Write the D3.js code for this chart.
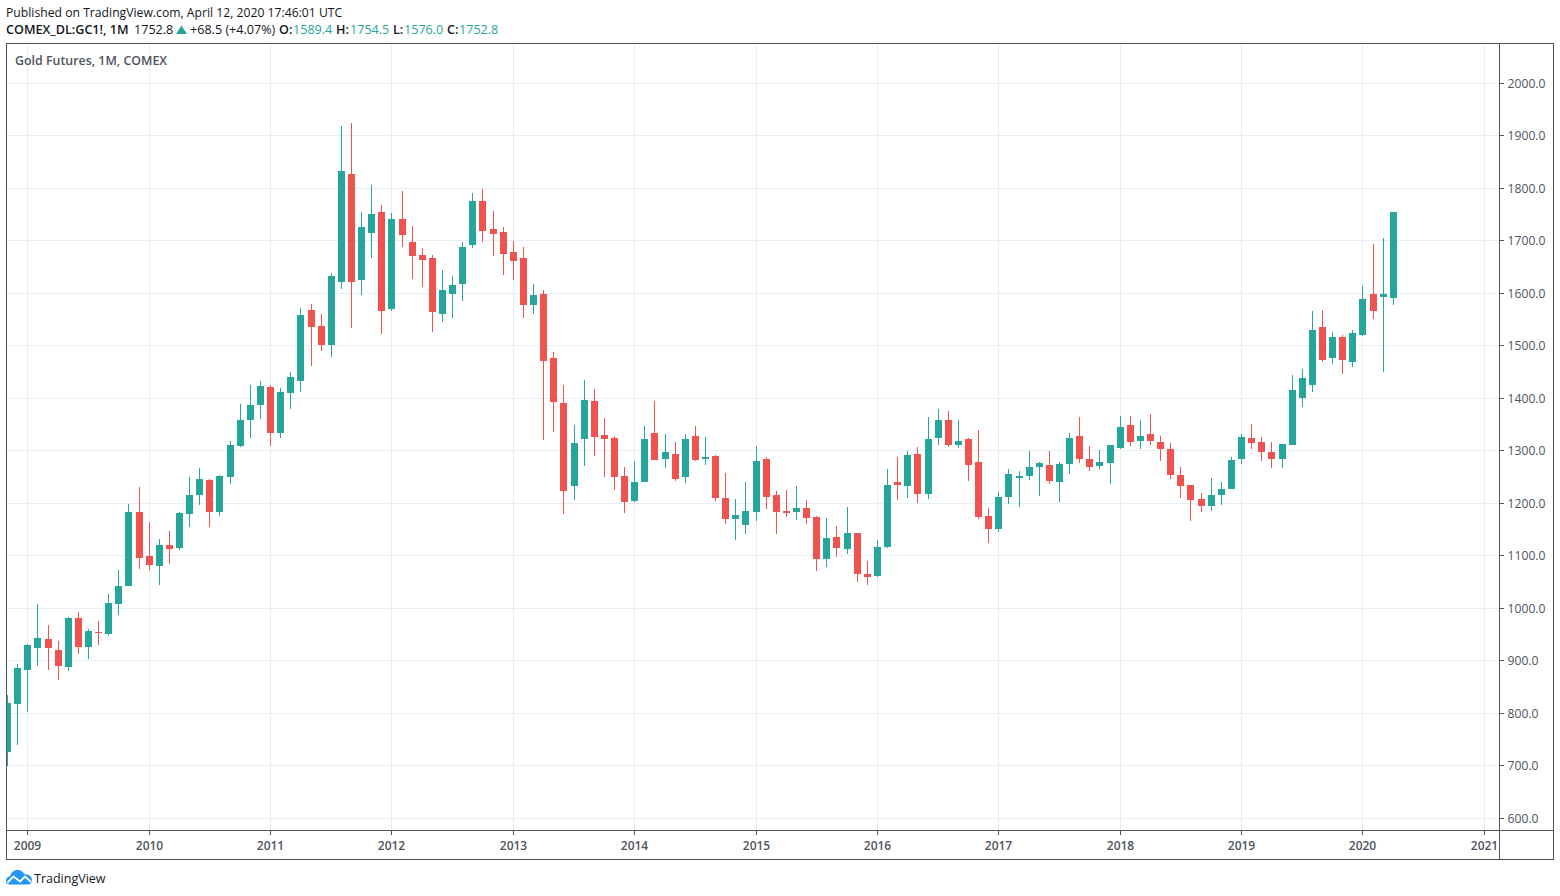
<!DOCTYPE html>
<html>
<head>
<meta charset="utf-8">
<script src="https://cdnjs.cloudflare.com/ajax/libs/d3/7.8.5/d3.min.js"></script>
<style>
  html, body { margin: 0; padding: 0; background: #fff; }
  text { font-family: "Open Sans", sans-serif; }
</style>
</head>
<body>
<svg id="chart" width="1560" height="896"></svg>
<script>
// monthly candles, Nov 2008 to Apr 2020
const opens = [726,817,882,924,941,920,888,981,926,954,
  950,1008,1042,1183,1099,1080,1120,1114,1179,1215,
  1244,1183,1249.5,1308.5,1358,1386.6,1420.9,1333.3,1409.5,1432,
  1567.6,1537,1501,1621,1826.7,1625,1714,1754,1569.5,1741,
  1697,1672.4,1666.7,1560,1598,1617,1691.4,1775,1722,1716,
  1678,1666.7,1577,1598,1476,1390.5,1232.4,1322,1394.3,1329.5,
  1323.8,1251.4,1203.8,1240,1333.3,1283.8,1293.3,1249.5,1327.6,1283.8,
  1289.5,1209.5,1169.5,1158,1182.8,1283.8,1215,1184.7,1182.8,1190.4,
  1173.3,1093.3,1135.2,1112.3,1142.8,1064.7,1060.9,1116.1,1240,1232.3,
  1293.3,1217,1323.8,1358,1310.4,1321.9,1278,1175.2,1150.4,1211.4,
  1247.6,1251.4,1268.5,1272.3,1240,1274.2,1327.6,1283.8,1270.4,1276.1,
  1304.7,1348.5,1318,1331.4,1316.1,1302.8,1253.3,1234.2,1207.6,1194.2,
  1215.2,1226.6,1283.8,1323.8,1316.1,1297,1283.7,1310.4,1400,1424.7,
  1535.2,1476.1,1516.1,1468.5,1520,1598,1592.3,1589.4];
const highs = [834,893,931,1008,968,937,983,992,960,975,
  1027,1072,1198,1229,1164,1131,1147,1183,1249.5,1267,
  1246,1253,1318,1388.5,1424.7,1432.3,1424.7,1419,1449.5,1571.4,
  1579,1560,1638,1918,1924,1754,1806,1767.6,1752.4,1794,
  1727.6,1685.7,1672.4,1643.8,1632.4,1697,1790.5,1798,1756,1725.7,
  1699,1687.6,1617,1605.7,1487.6,1424.8,1348.6,1434.3,1417,1362,
  1327.6,1268.6,1280,1346.7,1394.3,1331.4,1316,1331.4,1346.7,1325.7,
  1291.4,1257,1207.6,1240,1308.6,1287.6,1222.8,1224.7,1232.3,1205.7,
  1175.2,1171.4,1156,1192.3,1142.8,1089.4,1129.4,1264.7,1287.6,1299,
  1306.6,1363.8,1379,1375.2,1358,1323.8,1339,1190.4,1220.9,1264.7,
  1260.9,1299,1278,1299,1278,1333.3,1363.8,1308.5,1300.9,1310.4,
  1365.7,1365.7,1358,1369.5,1327.6,1314.2,1268.5,1234.2,1219,1247.6,
  1240,1287.6,1331.4,1350.4,1325.7,1316.1,1312.3,1443.7,1455.2,1565.7,
  1567.6,1525.6,1519.9,1529.4,1613.3,1693.3,1704.7,1754.5];
const lows = [698,739,801,889,882,863,880,912,903,929,
  947,987,1041,1074,1072,1044,1084,1110,1154,1196,
  1154,1175,1236,1306.6,1323.8,1360,1308.5,1323.8,1379,1411,
  1461,1489,1478,1607.6,1533.3,1596,1666.7,1522,1565.7,1687.6,
  1626.6,1611.4,1525.7,1544.7,1552.4,1584.7,1685.7,1697,1670.5,1634,
  1625,1552.4,1560,1320,1335,1179,1205.7,1270.5,1289.5,1249.5,
  1224.8,1181,1201.9,1240,1281.9,1266.7,1241.9,1238,1280,1272.4,
  1203.8,1160,1129.5,1141,1165.7,1188.6,1141,1173,1167.5,1160,
  1070.4,1078,1097,1102.8,1049.4,1043.7,1059,1114.2,1205.7,1209.5,
  1200,1207.6,1310.4,1306.6,1304.7,1241.9,1169.5,1123.7,1144.7,1198,
  1192.3,1243.8,1213.3,1236.1,1201.8,1255.2,1276.1,1260.9,1264.7,1236.1,
  1302.8,1308.5,1302.8,1310.4,1280,1245.7,1209.5,1165.6,1182.8,1184.7,
  1196.1,1226.6,1274.2,1302.8,1280,1266.6,1266.6,1310,1382.8,1411.4,
  1468.5,1464.7,1445.6,1459,1518,1550.4,1449.4,1576];
const closes = [819,886,929.5,943,924,889.5,981,926,956,952,
  1009.5,1042,1183,1095,1082,1120,1112,1181,1215,1246,
  1183,1251,1310,1358,1386.6,1422.8,1333.3,1411.4,1440,1558,
  1535,1501,1632.4,1832.4,1621,1725.7,1750.5,1565.7,1741,1710.5,
  1670.5,1662.9,1563.8,1605.7,1615,1687.6,1775,1718,1712.4,1674,
  1661,1577,1596,1470.5,1392.4,1222.8,1314.3,1396.2,1325.7,1322,
  1249.5,1201.9,1240,1321.9,1281.9,1297,1245.7,1321.9,1281.9,1287.6,
  1209.5,1169.5,1177,1184.8,1280,1211.4,1182.8,1180.9,1190.4,1171.4,
  1093.3,1133.3,1114.2,1142.8,1064.7,1059,1116.1,1234.2,1234.2,1291.4,
  1217,1321.9,1358,1310.4,1318,1272.3,1173.3,1150.4,1211.4,1255.2,
  1251.4,1268.5,1276.1,1241.9,1274.2,1323.8,1283.8,1268.5,1278,1310.4,
  1344.7,1316.1,1327.6,1318,1302.8,1253.3,1232.3,1205.6,1194.2,1215.2,
  1226.6,1281.9,1325.7,1314.2,1297,1283.7,1312.3,1415.1,1438,1529.4,
  1472.3,1516.1,1472.3,1523.7,1588.5,1565.6,1598,1752.8];

const yearLabels = ["2009","2010","2011","2012","2013","2014","2015","2016","2017","2018","2019","2020","2021"];
const priceTicks = [600,700,800,900,1000,1100,1200,1300,1400,1500,1600,1700,1800,1900,2000];

const UP = "#26a69a", DOWN = "#ef5350", GRID = "#e6eef5", LINE = "#50535e", INK = "#131722";

const paneLeft = 6.5, paneRight = 1499.5, outerRight = 1553.5, paneTop = 43.5, paneBottom = 830.5, outerBottom = 859.5;

// slot index runs past the last candle so the 2021 tick fits
const slots = d3.range(147);
const x = d3.scalePoint().domain(slots).range([7.59, 1484.31]);
const y = d3.scaleLinear().domain([600, 2000]).range([818.2, 83.2]);
const px = i => Math.floor(x(i)) + 0.5;
const py = v => Math.floor(y(v)) + 0.5;
const yearSlot = label => (+label - 2009) * 12 + 2;

const svg = d3.select("#chart");

svg.append("defs").append("clipPath").attr("id", "pane")
  .append("rect").attr("x", paneLeft + 0.5).attr("y", paneTop).attr("width", paneRight - paneLeft - 0.5).attr("height", paneBottom - paneTop);

// grid
const grid = svg.append("g").attr("clip-path", "url(#pane)").attr("shape-rendering", "crispEdges");
grid.selectAll("line.v").data(yearLabels).join("line")
  .attr("class", "v")
  .attr("x1", d => px(yearSlot(d))).attr("x2", d => px(yearSlot(d)))
  .attr("y1", paneTop).attr("y2", paneBottom)
  .attr("stroke", GRID);
grid.selectAll("line.h").data(priceTicks).join("line")
  .attr("class", "h")
  .attr("x1", paneLeft).attr("x2", paneRight)
  .attr("y1", d => py(d)).attr("y2", d => py(d))
  .attr("stroke", GRID);

// candles
const candles = closes.map((c, i) => ({ i, o: opens[i], h: highs[i], l: lows[i], c }));
const marks = svg.append("g").attr("clip-path", "url(#pane)").attr("shape-rendering", "crispEdges");
const colour = d => d.c >= d.o ? UP : DOWN;
const row = v => Math.floor(y(v));

marks.selectAll("rect.wick").data(candles).join("rect")
  .attr("class", "wick")
  .attr("x", d => px(d.i) - 0.5)
  .attr("width", 1)
  .attr("y", d => row(d.h))
  .attr("height", d => Math.max(1, row(d.l) - row(d.h)))
  .attr("fill", colour);

marks.selectAll("rect.body").data(candles).join("rect")
  .attr("class", "body")
  .attr("x", d => px(d.i) - 3.5)
  .attr("width", 7)
  .attr("y", d => row(Math.max(d.o, d.c)))
  .attr("height", d => Math.max(1, row(Math.min(d.o, d.c)) - row(Math.max(d.o, d.c))))
  .attr("fill", colour);

// axes
const yAxis = d3.axisRight(y).tickValues(priceTicks).tickFormat(d3.format(".1f")).tickSize(4).tickPadding(4);
const gy = svg.append("g").attr("transform", `translate(${paneRight},0)`).call(yAxis);
gy.select(".domain").remove();
gy.selectAll(".tick").attr("transform", d => `translate(0,${py(d)})`);
gy.selectAll(".tick line").attr("stroke", LINE).attr("shape-rendering", "crispEdges");
gy.selectAll(".tick text").attr("y", 1).attr("fill", LINE).style("font-size", "12.2px").style("font-family", '"Open Sans", sans-serif');

const xAxis = d3.axisBottom(x)
  .tickValues(yearLabels.map(yearSlot))
  .tickFormat(i => yearLabels[(i - 2) / 12])
  .tickSize(4).tickPadding(6.5);
const gx = svg.append("g").attr("transform", `translate(0,${paneBottom})`).call(xAxis);
gx.select(".domain").remove();
gx.selectAll(".tick").attr("transform", d => `translate(${px(d)},0)`);
gx.selectAll(".tick line").attr("stroke", LINE).attr("shape-rendering", "crispEdges");
gx.selectAll(".tick text").attr("fill", LINE)
  .style("font-size", "12px").style("font-weight", 600).style("font-family", '"Open Sans", sans-serif');

// frame
const frame = svg.append("g").attr("stroke", LINE).attr("fill", "none").attr("shape-rendering", "crispEdges");
frame.append("rect").attr("x", paneLeft).attr("y", paneTop).attr("width", outerRight - paneLeft).attr("height", outerBottom - paneTop);
frame.append("line").attr("x1", paneRight).attr("x2", paneRight).attr("y1", paneTop).attr("y2", outerBottom);
frame.append("line").attr("x1", paneLeft).attr("x2", outerRight).attr("y1", paneBottom).attr("y2", paneBottom);

// header
svg.append("text").attr("x", 6).attr("y", 17).attr("fill", INK).style("font-size", "12.2px")
  .text("Published on TradingView.com, April 12, 2020 17:46:01 UTC");

const legend = [
  { x: 6, t: "COMEX_DL:GC1!, 1M", w: 600, c: INK },
  { x: 134, t: "1752.8", w: 400, c: INK },
  { x: 190, t: "+68.5 (+4.07%)", w: 400, c: INK },
  { x: 279, t: "O:", w: 600, c: INK },
  { x: 293, t: "1589.4", w: 400, c: UP },
  { x: 336, t: "H:", w: 600, c: INK },
  { x: 350, t: "1754.5", w: 400, c: UP },
  { x: 393, t: "L:", w: 600, c: INK },
  { x: 404, t: "1576.0", w: 400, c: UP },
  { x: 447, t: "C:", w: 600, c: INK },
  { x: 459, t: "1752.8", w: 400, c: UP }
];
svg.append("g").selectAll("text").data(legend).join("text")
  .attr("x", d => d.x).attr("y", 34)
  .attr("fill", d => d.c)
  .style("font-size", "12.6px").style("font-weight", d => d.w)
  .text(d => d.t);
svg.append("path").attr("d", "M176 34 L181.5 25.5 L187 34 Z").attr("fill", UP);

svg.append("text").attr("x", 15).attr("y", 65).attr("fill", LINE)
  .style("font-size", "12.4px").style("font-weight", 600)
  .text("Gold Futures, 1M, COMEX");

// footer logo
const logo = svg.append("g").attr("transform", "translate(6,870)");
logo.append("path").attr("fill", "#2196f3")
  .attr("d", "M0 11 C0 8.5 1.5 6.8 4 6.3 C5 2.5 8 0 11.5 0 C14.5 0 17 1.6 18.5 4.2 C22.5 3.8 26 6.5 26 10 C26 12.6 24.5 14.5 22 14.5 L3.5 14.5 C1.5 14.5 0 13 0 11 Z");
logo.append("path").attr("fill", "none").attr("stroke", "#fff").attr("stroke-width", 1.8)
  .attr("d", "M1.5 12.5 L7.5 6.5 L14 11.5 L19 6.5 L25 12");
svg.append("text").attr("x", 34).attr("y", 883).attr("fill", INK).style("font-size", "12.5px").text("TradingView");
</script>
</body>
</html>
